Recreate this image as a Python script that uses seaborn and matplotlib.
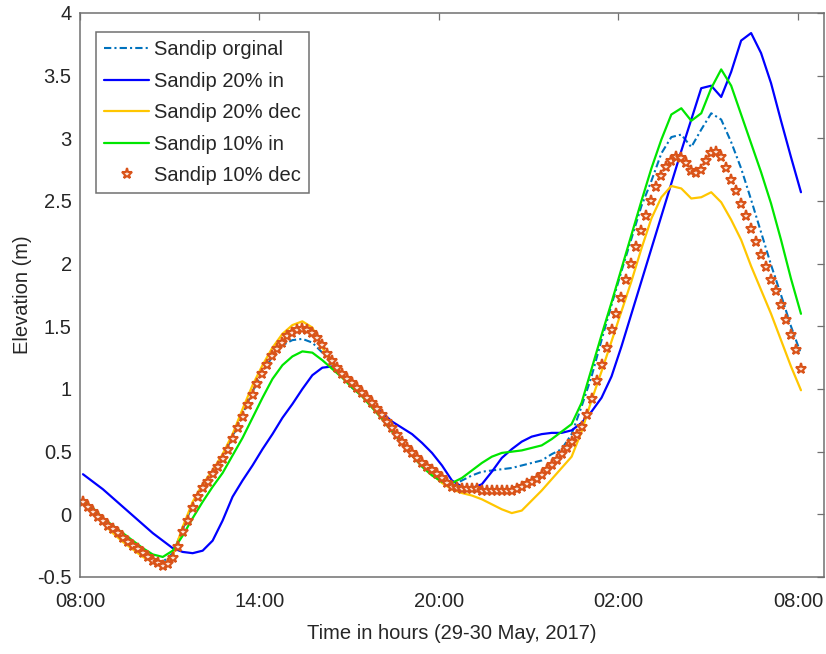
import numpy as np
import pandas as pd
import matplotlib
matplotlib.use("Agg")
import matplotlib.pyplot as plt
import seaborn as sns

# ---------------- data (hours after 08:00, 29 May 2017) ----------------
hours_line = np.round(0.1 + np.arange(73) / 3, 4)   # 20-min sampling
hours_dec = np.round(0.1 + np.arange(145) / 6, 4)   # 10-min sampling

orig = [0.11, 0.03, -0.05, -0.12, -0.19, -0.26, -0.32, -0.36, -0.38, -0.31,
        -0.12, 0.08, 0.24, 0.35, 0.46, 0.62, 0.80, 0.98, 1.13, 1.26,
        1.35, 1.39, 1.40, 1.37, 1.29, 1.20, 1.11, 1.03, 0.95, 0.86,
        0.77, 0.67, 0.56, 0.47, 0.39, 0.32, 0.26, 0.23, 0.27, 0.31,
        0.34, 0.35, 0.36, 0.37, 0.39, 0.41, 0.43, 0.48, 0.52, 0.64,
        0.86, 1.10, 1.39, 1.67, 1.94, 2.20, 2.46, 2.66, 2.88, 3.01,
        3.03, 2.93, 3.07, 3.20, 3.15, 2.97, 2.76, 2.51, 2.25, 1.99,
        1.75, 1.50, 1.28]

in20 = [0.32, 0.26, 0.20, 0.13, 0.06, -0.01, -0.08, -0.15, -0.21, -0.27,
        -0.30, -0.31, -0.29, -0.21, -0.05, 0.14, 0.27, 0.39, 0.52, 0.64,
        0.77, 0.88, 1.00, 1.11, 1.17, 1.18, 1.11, 1.01, 0.95, 0.88,
        0.81, 0.74, 0.69, 0.64, 0.57, 0.49, 0.39, 0.27, 0.22, 0.21,
        0.24, 0.34, 0.45, 0.52, 0.58, 0.62, 0.64, 0.65, 0.65, 0.67,
        0.73, 0.82, 0.93, 1.10, 1.34, 1.60, 1.86, 2.12, 2.38, 2.64,
        2.90, 3.15, 3.40, 3.42, 3.33, 3.53, 3.78, 3.84, 3.68, 3.44,
        3.14, 2.85, 2.57]

dec20 = [0.10, 0.01, -0.07, -0.15, -0.22, -0.28, -0.34, -0.38, -0.41, -0.33,
         -0.10, 0.10, 0.24, 0.35, 0.48, 0.64, 0.84, 1.03, 1.19, 1.33,
         1.44, 1.51, 1.54, 1.49, 1.33, 1.20, 1.10, 1.03, 0.95, 0.87,
         0.77, 0.67, 0.56, 0.47, 0.39, 0.32, 0.25, 0.20, 0.17, 0.15,
         0.12, 0.08, 0.04, 0.01, 0.03, 0.11, 0.19, 0.28, 0.37, 0.46,
         0.66, 0.91, 1.14, 1.38, 1.62, 1.86, 2.12, 2.36, 2.53, 2.62,
         2.60, 2.52, 2.53, 2.57, 2.49, 2.35, 2.19, 1.98, 1.79, 1.60,
         1.39, 1.18, 0.99]

in10 = [0.12, 0.05, -0.03, -0.09, -0.15, -0.21, -0.27, -0.32, -0.34, -0.29,
        -0.17, -0.03, 0.10, 0.22, 0.33, 0.47, 0.61, 0.77, 0.93, 1.08,
        1.19, 1.26, 1.30, 1.29, 1.23, 1.16, 1.09, 1.01, 0.94, 0.85,
        0.76, 0.66, 0.57, 0.47, 0.38, 0.31, 0.26, 0.25, 0.29, 0.35,
        0.41, 0.46, 0.49, 0.50, 0.51, 0.53, 0.55, 0.60, 0.66, 0.72,
        0.89, 1.16, 1.43, 1.69, 1.96, 2.23, 2.50, 2.76, 2.99, 3.19,
        3.24, 3.14, 3.20, 3.40, 3.55, 3.42, 3.19, 2.96, 2.73, 2.48,
        2.19, 1.88, 1.60]

dec10 = [0.10, 0.06, 0.02, -0.02, -0.05, -0.09, -0.12, -0.15, -0.19, -0.22,
         -0.25, -0.28, -0.31, -0.34, -0.37, -0.39, -0.41, -0.40, -0.35, -0.26,
         -0.14, -0.05, 0.05, 0.14, 0.21, 0.26, 0.32, 0.38, 0.44, 0.51,
         0.60, 0.69, 0.78, 0.87, 0.95, 1.04, 1.12, 1.19, 1.26, 1.32,
         1.37, 1.42, 1.45, 1.47, 1.48, 1.47, 1.45, 1.41, 1.35, 1.28,
         1.22, 1.17, 1.12, 1.08, 1.05, 1.01, 0.97, 0.93, 0.89, 0.84,
         0.79, 0.74, 0.69, 0.63, 0.58, 0.53, 0.49, 0.45, 0.41, 0.38,
         0.35, 0.32, 0.29, 0.25, 0.22, 0.21, 0.20, 0.20, 0.20, 0.20,
         0.19, 0.19, 0.19, 0.19, 0.19, 0.19, 0.19, 0.20, 0.22, 0.24,
         0.26, 0.28, 0.31, 0.35, 0.39, 0.43, 0.48, 0.53, 0.58, 0.63,
         0.70, 0.79, 0.92, 1.06, 1.19, 1.33, 1.47, 1.60, 1.73, 1.87,
         2.00, 2.13, 2.26, 2.38, 2.50, 2.61, 2.70, 2.77, 2.82, 2.85,
         2.84, 2.80, 2.74, 2.72, 2.75, 2.82, 2.88, 2.89, 2.85, 2.76,
         2.67, 2.58, 2.48, 2.38, 2.28, 2.17, 2.07, 1.97, 1.87, 1.78,
         1.67, 1.55, 1.43, 1.31, 1.16]

labels = ["Sandip orginal", "Sandip 20% in", "Sandip 20% dec",
          "Sandip 10% in", "Sandip 10% dec"]
x_ticks = [0, 6, 12, 18, 24]
x_tick_labels = ["08:00", "14:00", "20:00", "02:00", "08:00"]
y_ticks = [-0.5, 0, 0.5, 1, 1.5, 2, 2.5, 3, 3.5, 4]

# ---------------- style ----------------
sns.set_style("white")
plt.rcParams["font.family"] = ["Liberation Sans", "DejaVu Sans"]
text_color = "#262626"
spine_color = "#707070"

df_lines = pd.DataFrame({"hours": hours_line, "orig": orig, "in20": in20,
                         "dec20": dec20, "in10": in10})
df_dec = pd.DataFrame({"hours": hours_dec, "dec10": dec10})

fig = plt.figure(figsize=(8.26, 6.54), dpi=100)
ax = fig.add_axes([80 / 826, 1 - 577 / 654, 744 / 826, 564 / 654])

sns.lineplot(data=df_lines, x="hours", y="orig", ax=ax, color="#0072BD",
             lw=1.5, label=labels[0])
ax.lines[-1].set_dashes([3.5, 1.5, 1.0, 1.5])
sns.lineplot(data=df_lines, x="hours", y="in20", ax=ax, color="#0000FF",
             lw=1.6, label=labels[1])
sns.lineplot(data=df_lines, x="hours", y="dec20", ax=ax, color="#FFC600",
             lw=1.6, label=labels[2])
sns.lineplot(data=df_lines, x="hours", y="in10", ax=ax, color="#00E600",
             lw=1.6, label=labels[3])
sns.lineplot(data=df_dec, x="hours", y="dec10", ax=ax, color="#D95319",
             linestyle="none", marker="*", markersize=8,
             markerfacecolor="#FBE3D6", markeredgecolor="#D95319",
             markeredgewidth=1.5, label=labels[4])
mline = ax.lines[-1]
mline.set_markeredgecolor("#D95319")
mline.set_markerfacecolor("#FBE3D6")
mline.set_linestyle("none")

ax.set_xlim(0, 24.87)
ax.set_ylim(-0.5, 4)
ax.set_xticks(x_ticks)
ax.set_xticklabels(x_tick_labels)
ax.set_yticks(y_ticks)
ax.set_yticklabels([f"{v:g}" for v in y_ticks])

ax.tick_params(axis="both", which="both", direction="in", length=5,
               width=0.9, color=spine_color, labelsize=14.5,
               labelcolor=text_color, top=True, right=True)
ax.tick_params(axis="x", pad=11)
ax.tick_params(axis="y", pad=6)
for s in ax.spines.values():
    s.set_visible(True)
    s.set_color(spine_color)
    s.set_linewidth(1.1)

ax.set_xlabel("Time in hours (29-30 May, 2017)", fontsize=14.5,
              color=text_color, labelpad=9)
ax.set_ylabel("Elevation (m)", fontsize=14.5, color=text_color, labelpad=4)

leg = ax.legend(loc="upper left", bbox_to_anchor=(0.0215, 0.966),
                fontsize=14.5, handlelength=2.25, handletextpad=0.25,
                borderpad=0.4, labelspacing=0.62, borderaxespad=0,
                numpoints=1, fancybox=False, frameon=True, framealpha=1)
leg.get_frame().set_edgecolor(spine_color)
leg.get_frame().set_linewidth(1.1)
for t in leg.get_texts():
    t.set_color(text_color)

fig.savefig("out.png", dpi=100, facecolor="white")
